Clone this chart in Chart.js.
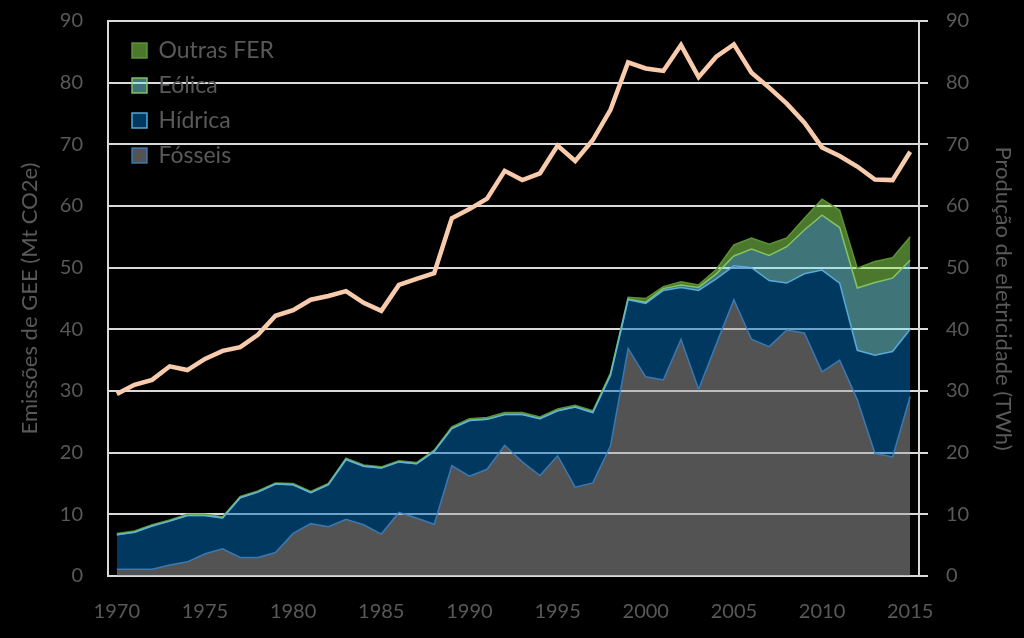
<!DOCTYPE html>
<html>
<head>
<meta charset="utf-8">
<script src="https://cdn.jsdelivr.net/npm/chart.js@4.4.1/dist/chart.umd.min.js"></script>
<style>
  html, body { margin: 0; padding: 0; background: #000; }
  #wrap { width: 1024px; height: 638px; }
</style>
</head>
<body>
<div id="wrap"><canvas id="chart"></canvas></div>
<script>
const years = ['1970','1971','1972','1973','1974','1975','1976','1977','1978','1979',
  '1980','1981','1982','1983','1984','1985','1986','1987','1988','1989',
  '1990','1991','1992','1993','1994','1995','1996','1997','1998','1999',
  '2000','2001','2002','2003','2004','2005','2006','2007','2008','2009',
  '2010','2011','2012','2013','2014','2015'];
const tickYears = ['1970','1975','1980','1985','1990','1995','2000','2005','2010','2015'];

// emissões (Mt CO2e), eixo esquerdo
const emissoes = [29.5, 31.0, 31.8, 34.0, 33.4, 35.2, 36.5, 37.1, 39.1, 42.2,
  43.1, 44.8, 45.4, 46.2, 44.3, 43.0, 47.2, 48.2, 49.1, 58.0,
  59.5, 61.2, 65.7, 64.2, 65.3, 69.8, 67.3, 70.7, 75.6, 83.3,
  82.3, 81.9, 86.1, 80.9, 84.2, 86.2, 81.6, 79.2, 76.6, 73.5,
  69.5, 68.1, 66.4, 64.3, 64.2, 68.8];

// produção de eletricidade (TWh), eixo direito, empilhado
const fosseis = [1.1, 1.1, 1.1, 1.8, 2.3, 3.6, 4.4, 3.0, 3.0, 3.8,
  6.9, 8.5, 8.0, 9.2, 8.3, 6.8, 10.3, 9.4, 8.4, 17.9,
  16.2, 17.3, 21.2, 18.5, 16.3, 19.5, 14.4, 15.1, 21.1, 36.9,
  32.3, 31.8, 38.4, 30.3, 37.6, 44.8, 38.4, 37.2, 39.9, 39.4,
  33.1, 35.0, 28.6, 19.9, 19.3, 29.1];
const hidrica = [5.6, 6.0, 7.0, 7.1, 7.5, 6.2, 5.0, 9.7, 10.6, 11.1,
  7.9, 5.0, 6.8, 9.7, 9.5, 10.7, 8.2, 8.8, 11.8, 6.0,
  9.0, 8.1, 5.0, 7.7, 9.2, 7.3, 13.0, 11.4, 11.4, 7.9,
  11.9, 14.5, 8.4, 16.0, 10.6, 5.5, 11.6, 10.7, 7.6, 9.6,
  16.5, 12.5, 8.0, 15.9, 17.1, 10.9];
const eolica = [0, 0, 0, 0, 0, 0, 0, 0, 0, 0,
  0, 0, 0, 0, 0, 0, 0, 0, 0, 0,
  0, 0, 0, 0, 0, 0, 0, 0, 0.1, 0.1,
  0.2, 0.3, 0.4, 0.5, 0.8, 1.6, 3.0, 4.1, 5.9, 7.1,
  8.9, 9.0, 10.1, 11.8, 11.9, 11.2];
const outras = [0.2, 0.2, 0.2, 0.2, 0.2, 0.2, 0.2, 0.2, 0.2, 0.2,
  0.2, 0.2, 0.2, 0.2, 0.2, 0.2, 0.2, 0.2, 0.2, 0.3,
  0.3, 0.3, 0.3, 0.3, 0.3, 0.3, 0.3, 0.3, 0.3, 0.3,
  0.6, 0.3, 0.5, 0.4, 0.7, 1.8, 1.8, 1.8, 1.4, 1.9,
  2.6, 2.8, 3.2, 3.4, 3.3, 3.8];

const txt = '#595959';
const grid = '#d9d9d9';
const fontFam = "Lato, 'Open Sans', sans-serif";

// put the in-plot legend where the original has it
const legendShift = {
  id: 'legendShift',
  afterLayout(chart) {
    if (chart.legend) {
      const w = chart.legend.width, h = chart.legend.height;
      chart.legend.left = chart.chartArea.left + 12;
      chart.legend.top = chart.chartArea.top + 6;
      chart.legend.right = chart.legend.left + w;
      chart.legend.bottom = chart.legend.top + h;
    }
  }
};

function area(label, data, fillCol, lineCol, fill) {
  return {
    type: 'line', label: label, data: data, yAxisID: 'y2',
    fill: fill, backgroundColor: fillCol, borderColor: lineCol,
    borderWidth: 1.5, pointRadius: 0, tension: 0, order: 1
  };
}

const ctx = document.getElementById('chart').getContext('2d');
new Chart(ctx, {
  type: 'line',
  data: {
    labels: years,
    datasets: [
      {
        label: 'Emissões', data: emissoes, yAxisID: 'y',
        borderColor: '#f8cbad', borderWidth: 4.5, pointRadius: 0,
        fill: false, tension: 0, order: 0
      },
      area('Fósseis', fosseis, 'rgba(166,166,166,0.5)', 'rgba(60,130,195,0.85)', 'origin'),
      area('Hídrica', hidrica, 'rgba(0,112,192,0.5)', 'rgba(95,180,230,0.9)', '-1'),
      area('Eólica', eolica, 'rgba(125,232,240,0.5)', 'rgba(140,205,100,0.9)', '-1'),
      area('Outras FER', outras, 'rgba(150,240,90,0.5)', 'rgba(95,150,55,0.95)', '-1')
    ]
  },
  options: {
    responsive: true,
    maintainAspectRatio: false,
    animation: false,
    layout: { padding: { left: 13, right: 4, top: 21, bottom: 0 } },
    plugins: {
      tooltip: { enabled: false },
      legend: {
        position: 'chartArea',
        align: 'start',
        reverse: true,
        labels: {
          color: txt,
          font: { family: fontFam, size: 23 },
          boxWidth: 15,
          boxHeight: 15,
          padding: 12,
          filter: item => item.text !== 'Emissões'
        }
      }
    },
    scales: {
      x: {
        type: 'category',
        offset: true,
        grid: { display: false, drawTicks: false },
        border: { display: true, color: grid, width: 2 },
        ticks: {
          autoSkip: false, maxRotation: 0, padding: 24, color: txt,
          font: { family: fontFam, size: 20 },
          callback: function (value) {
            const lab = this.getLabelForValue(value);
            return tickYears.includes(lab) ? lab : '';
          }
        },
        afterFit: s => { s.height = 62; }
      },
      y: {
        position: 'left',
        min: 0, max: 90,
        ticks: { stepSize: 10, padding: 25, color: txt, font: { family: fontFam, size: 20 } },
        grid: { color: grid, lineWidth: 2, drawTicks: false },
        border: { color: grid, width: 2 },
        title: { display: true, text: 'Emissões de GEE (Mt CO2e)', color: txt, font: { family: fontFam, size: 22 } },
        afterFit: s => { s.width = 95; s.paddingTop = 0; s.paddingBottom = 0; }
      },
      y2: {
        position: 'right',
        min: 0, max: 90,
        stacked: true,
        ticks: { stepSize: 10, padding: 18, color: txt, font: { family: fontFam, size: 20 } },
        grid: { drawOnChartArea: false, color: grid, lineWidth: 2, tickLength: 9 },
        border: { color: grid, width: 2 },
        title: { display: true, text: 'Produção de eletricidade (TWh)', color: txt, font: { family: fontFam, size: 22 } },
        afterFit: s => { s.width = 101; s.paddingTop = 0; s.paddingBottom = 0; }
      }
    }
  },
  plugins: [legendShift]
});
</script>
</body>
</html>
